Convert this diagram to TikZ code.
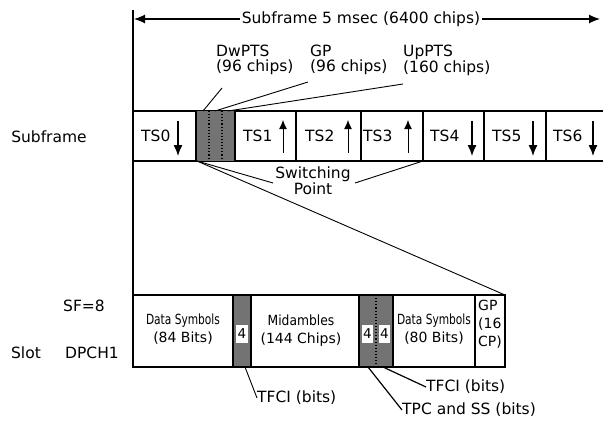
\documentclass[tikz,border=0pt]{standalone}
\usepackage{fontspec}
\setmainfont{DejaVu Sans}
\usetikzlibrary{arrows.meta}
\begin{document}
\begin{tikzpicture}[x=1pt,y=-1pt,
  lbl/.style={font=\fontsize{15.5}{15}\selectfont, inner sep=0pt},
  two/.style={font=\fontsize{15.5}{15}\selectfont, inner sep=0pt, align=left, anchor=north west},
  small/.style={font=\fontsize{14}{18}\selectfont, inner sep=0pt, align=center},
  ln/.style={line width=1.2pt},
  thin/.style={line width=0.9pt},
  dotdiv/.style={line width=1.1pt, dotted},
  tsarrow/.style={line width=1.3pt, -{Latex[length=11pt,width=9pt]}},
  uparrow/.style={line width=1.0pt, -{Latex[length=9pt,width=8pt]}}
]
\useasboundingbox (0,0) rectangle (603,421);

% ---------- top dimension ----------
\draw[ln] (133,10) -- (133,367);
\coordinate (tl) at (134,19);
\coordinate (tr) at (600,19);
\draw[ln, {Latex[length=11pt,width=9pt]}-{Latex[length=11pt,width=9pt]}] (tl) -- (tr);
\node[lbl, fill=white, inner xsep=2pt, inner ysep=1pt] (dim) at (361,19) {Subframe 5 msec (6400 chips)};

% ---------- subframe row ----------
\node[lbl] (sublbl) at (49,137) {Subframe};
\draw[ln] (133,111) -- (603,111);
\draw[ln] (133,161) -- (603,161);
\fill[black!55] (196,111) rectangle (235,161);
\draw[ln] (196,111) -- (196,161);
\draw[ln] (235,111) -- (235,161);
\draw[dotdiv] (209,111) -- (209,161);
\draw[dotdiv] (222,111) -- (222,161);
\foreach \x in {296,361,423,484,546} {\draw[ln] (\x,111) -- (\x,161);}

\foreach \n/\tx in {0/141,1/243,2/305,3/363,4/430,5/492,6/553}
  {\node[lbl, anchor=west] (ts\n) at (\tx,136) {TS\n};}
\foreach \ax in {178,472,533,593}
  {\draw[tsarrow] (\ax,121) -- (\ax,156);}
\foreach \ax in {283,348,408}
  {\draw[uparrow] (\ax,153) -- (\ax,120);}

% ---------- labels above ----------
\node[two] (dw) at (216,45) {DwPTS\\(96 chips)};
\node[two] (gp) at (310,45) {GP\\(96 chips)};
\node[two] (up) at (403,45) {UpPTS\\(160 chips)};
\coordinate (dwa) at (222,88);  \coordinate (dwb) at (203,111);
\coordinate (gpa) at (308,82);  \coordinate (gpb) at (215,111);
\coordinate (upa) at (403,84);  \coordinate (upb) at (228,111);
\draw[thin] (dwa) -- (dwb);
\draw[thin] (gpa) -- (gpb);
\draw[thin] (upa) -- (upb);

% ---------- switching point ----------
\node[lbl, align=center, font=\fontsize{15.5}{16}\selectfont] (sw) at (313,181) {Switching\\Point};
\coordinate (swl) at (197,161); \coordinate (swle) at (273,183);
\coordinate (swr) at (423,161); \coordinate (swre) at (355,183);
\draw[thin] (swl) -- (swle);
\draw[thin] (swr) -- (swre);

% ---------- expansion line ----------
\coordinate (slottr) at (505,295);
\draw[thin] (swl) -- (slottr);

% ---------- slot row ----------
\node[lbl] (sf) at (84,306) {SF=8};
\node[lbl] (slotlbl) at (26,353) {Slot};
\node[lbl] (dpch) at (92,353) {DPCH1};

\foreach \a/\b in {233/251,359/376,376/393} {
  \fill[black!55] (\a,295) rectangle (\b,367);
  \draw[dotdiv] (\a,295) -- (\a,367);
  \draw[dotdiv] (\b,295) -- (\b,367);
  \fill[white] (\a+3,325) rectangle (\b-3,343);
  \node[font=\fontsize{13.5}{13.5}\selectfont, inner sep=0pt] at ({(\a+\b)/2},334) {4};
}
\draw[ln] (233,295) -- (233,367);
\draw[ln] (251,295) -- (251,367);
\draw[ln] (359,295) -- (359,367);
\draw[ln] (393,295) -- (393,367);
\draw[ln] (475,295) -- (475,367);
\draw[ln] (133,295) rectangle (505,367);

\node[small] (ds1) at (183,329) {\scalebox{0.76}[1]{Data Symbols}\\(84 Bits)};
\node[small] (mid) at (301,331) {\scalebox{0.88}[1]{Midambles}\\(144 Chips)};
\node[small] (ds2) at (434,329) {\scalebox{0.76}[1]{Data Symbols}\\(80 Bits)};
\begin{scope}
  \clip (476,296) rectangle (504,366);
  \node[small, align=left, anchor=north west, font=\fontsize{14}{18}\selectfont] (gpc) at (478,300) {GP\\(16\\CP)};
\end{scope}

% ---------- bottom labels ----------
\node[lbl, anchor=west] (tf1) at (257,398) {TFCI (bits)};
\node[lbl, anchor=west] (tf2) at (426,387) {TFCI (bits)};
\node[lbl, anchor=west] (tpc) at (402,410) {TPC and SS (bits)};
\coordinate (tf1a) at (245,367);
\coordinate (tf2a) at (383,367);
\coordinate (tpca) at (368,367);
\draw[thin] (tf1a) -- (tf1.west);
\draw[ln] (tf2a) -- (tf2.west);
\draw[ln] (tpca) -- (tpc.west);
\end{tikzpicture}
\end{document}
